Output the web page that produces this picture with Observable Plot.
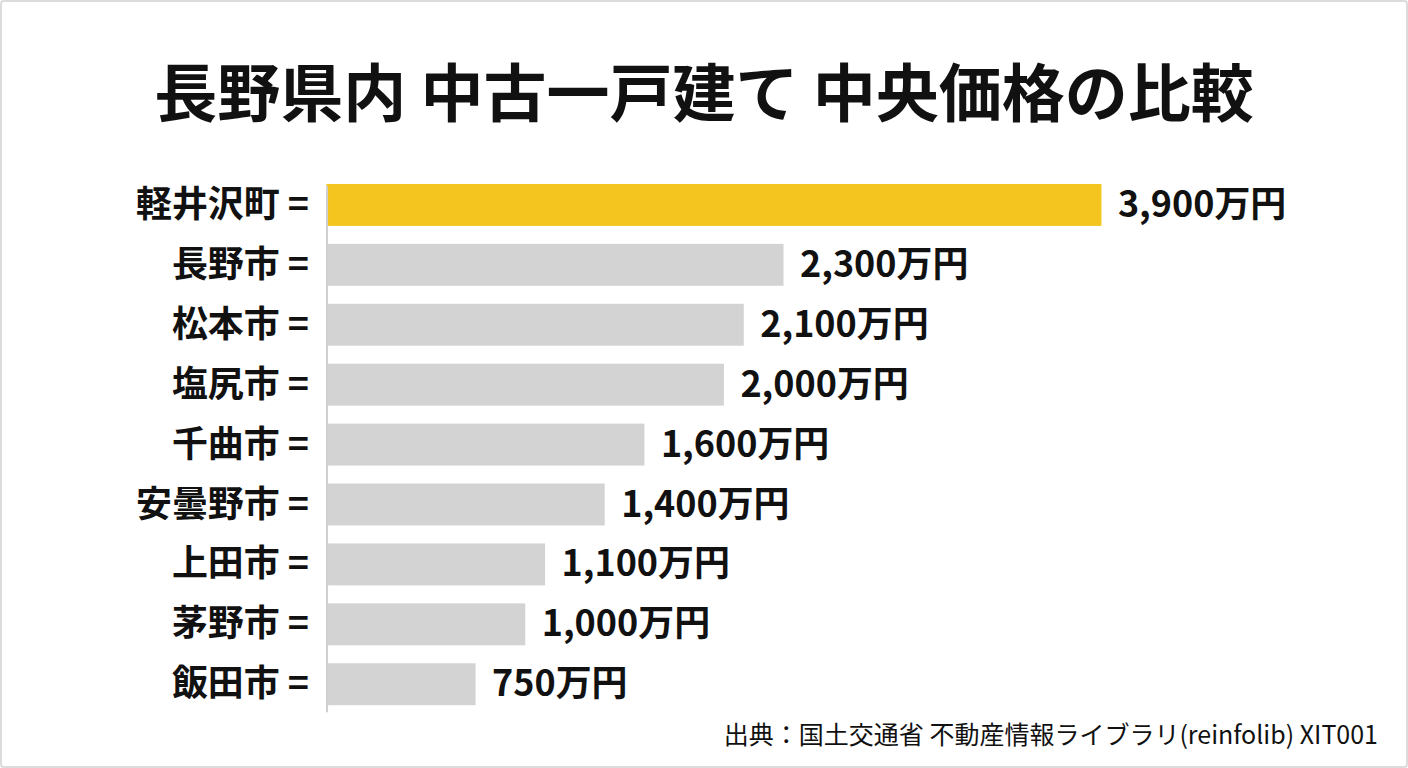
<!DOCTYPE html>
<html lang="ja">
<head>
<meta charset="utf-8">
<script src="https://cdn.jsdelivr.net/npm/d3@7"></script>
<script src="https://cdn.jsdelivr.net/npm/@observablehq/plot@0.6"></script>
<style>
  html, body { margin: 0; padding: 0; background: #fff; }
  #frame {
    position: relative; width: 1408px; height: 768px; box-sizing: border-box;
    border: 2px solid #dcdcdc; border-radius: 4px; overflow: hidden; background: #fff;
    font-family: "Noto Sans CJK JP", "Noto Sans", sans-serif;
  }
  #title {
    position: absolute; left: 0; right: 0; top: 47px; text-align: center;
    font-size: 63px; font-weight: 700; color: #111; line-height: 80px;
  }
  #chart { position: absolute; left: -2px; top: 148px; }
  #caption {
    position: absolute; right: 28px; top: 715px; font-size: 25px; color: #111; line-height: 32px;
  }
</style>
</head>
<body>
<div id="frame">
  <div id="title">長野県内 中古一戸建て 中央価格の比較</div>
  <div id="chart"></div>
  <div id="caption">出典：国土交通省 不動産情報ライブラリ(reinfolib) XIT001</div>
</div>
<script>
const cities = ["軽井沢町", "長野市", "松本市", "塩尻市", "千曲市", "安曇野市", "上田市", "茅野市", "飯田市"];
const prices = [3900, 2300, 2100, 2000, 1600, 1400, 1100, 1000, 750]; // 万円
const highlight = "軽井沢町";

const data = cities.map((c, i) => ({city: c, price: prices[i]}));
const fmt = d3.format(",");

const chart = Plot.plot({
  width: 1408,
  height: 624,
  marginTop: 13,
  marginBottom: 47,
  marginLeft: 327,
  marginRight: 305,
  style: {fontFamily: '"Noto Sans CJK JP", sans-serif', color: "#111", background: "transparent"},
  x: {domain: [0, 3900], axis: null},
  y: {domain: cities, padding: 0.3, label: null},
  marks: [
    Plot.barX(data, {
      x: "price", y: "city",
      fill: d => d.city === highlight ? "#F5C51F" : "#D3D3D3"
    }),
    Plot.ruleX([0], {stroke: "#cfcfcf", strokeWidth: 2, insetTop: 23, insetBottom: 14}),
    Plot.axisY({
      tickSize: 0, tickPadding: 18, fontSize: 36, fontWeight: 700,
      tickFormat: d => d + " =", label: null, fill: "#111"
    }),
    Plot.text(data, {
      x: "price", y: "city", text: d => fmt(d.price) + "万円",
      dx: 16, textAnchor: "start", fontSize: 36, fontWeight: 700, fill: "#111"
    })
  ]
});
document.getElementById("chart").appendChild(chart);
</script>
</body>
</html>
